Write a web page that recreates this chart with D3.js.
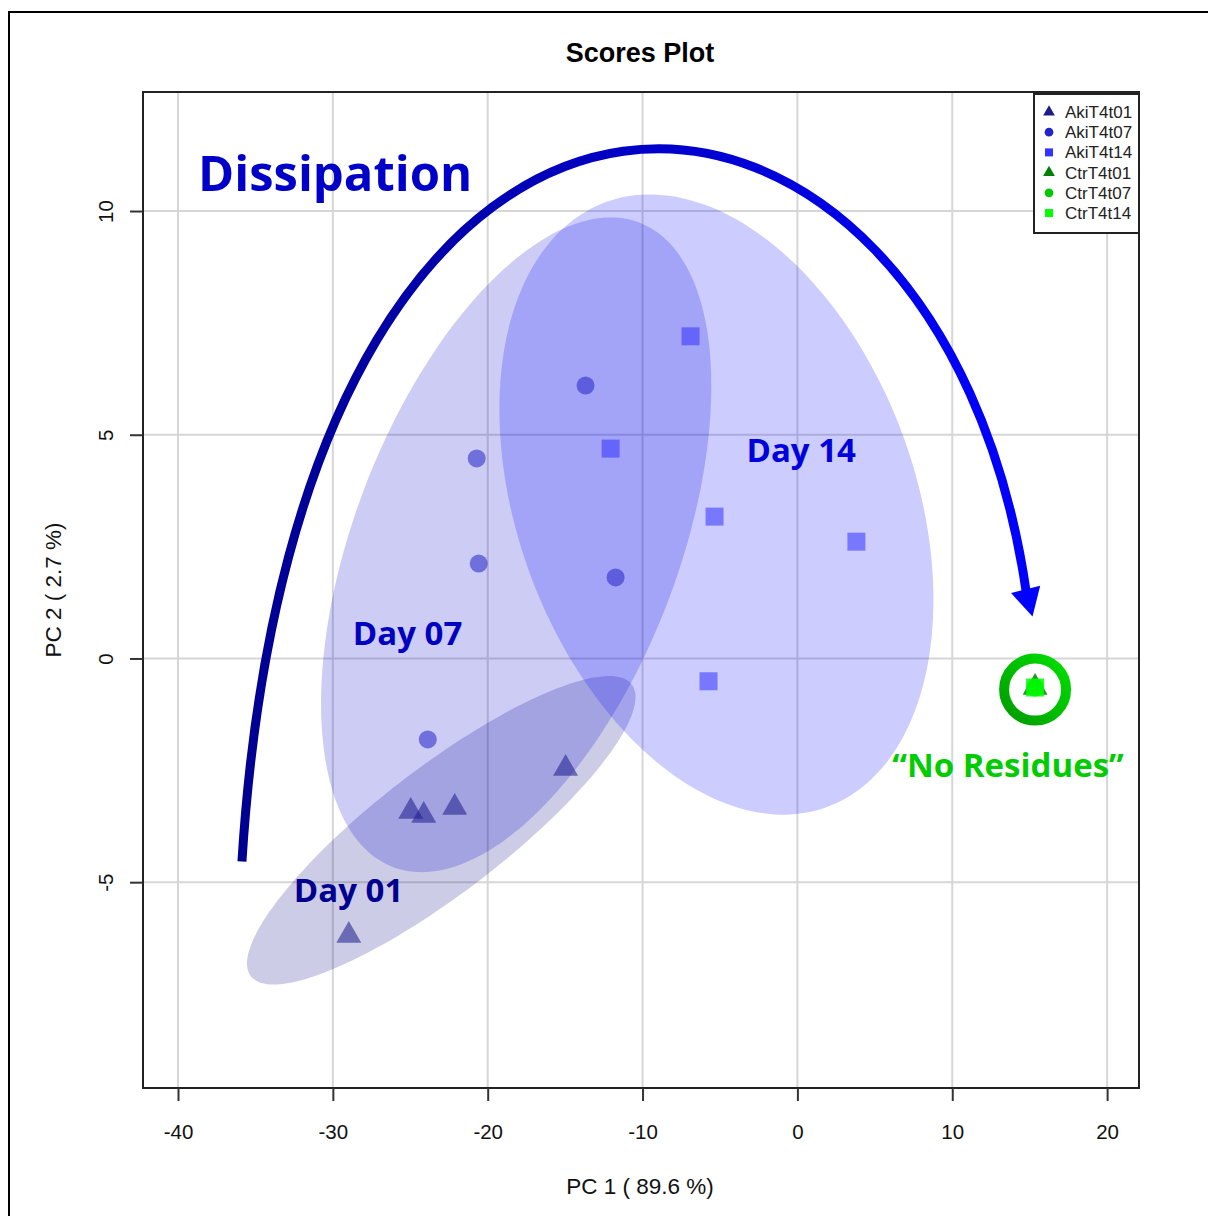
<!DOCTYPE html>
<html>
<head>
<meta charset="utf-8">
<script src="https://cdn.jsdelivr.net/npm/d3@7"></script>
<style>
  body { margin: 0; background: #fff; }
  text { font-family: "Liberation Sans", Arial, sans-serif; }
  .note { font-family: "Open Sans", "DejaVu Sans", sans-serif; font-weight: bold; }
</style>
</head>
<body>
<div id="scores"></div>
<script>
// PCA scores
var day01X = [-28.97, -24.97, -24.13, -22.13, -14.97];
var day01Y = [-6.19, -3.42, -3.51, -3.33, -2.46];
var day07X = [-23.87, -20.58, -20.71, -13.68, -11.74];
var day07Y = [-1.81, 2.12, 4.47, 6.10, 1.81];
var day14X = [-6.90, -12.06, -5.35, 3.81, -5.74];
var day14Y = [7.20, 4.69, 3.17, 2.61, -0.51];
var ctrlX = [15.35, 15.35, 15.35];
var ctrlY = [-0.65, -0.65, -0.65];

var groupNames = ["AkiT4t01", "AkiT4t07", "AkiT4t14", "CtrT4t01", "CtrT4t07", "CtrT4t14"];
var groupColors = ["#1c1c8c", "#2424c8", "#3333ff", "#008000", "#00c800", "#00ff00"];
var groupShapes = ["triangle", "circle", "square", "triangle", "circle", "square"];

var xTicks = [-40, -30, -20, -10, 0, 10, 20];
var yTicks = [-5, 0, 5, 10];

// confidence ellipses: centre, and two semi-axis vectors, data units
var ellCentre = [[-23.0, -3.84], [-18.16, 2.54], [-5.23, 3.44]];
var ellAxisA = [[12.30, 3.26], [7.97, 7.20], [-7.14, 6.76]];
var ellAxisB = [[2.47, -1.12], [9.76, -1.30], [12.06, 1.53]];
var ellColors = ["#000080", "#0000cd", "#0000ff"];

// the "dissipation" arrow: cubic curve, control points in data units
var arrowX = [-35.87, -32.13, 9.16, 14.77];
var arrowY = [-4.54, 16.40, 14.84, 1.50];

var notes = [
  {text: "Dissipation", x: -38.71, y: 10.44, size: 49, color: "#0000c8"},
  {text: "Day 14", x: -3.29, y: 4.38, size: 33, color: "#0000dd"},
  {text: "Day 07", x: -28.71, y: 0.29, size: 33, color: "#0000c0"},
  {text: "Day 01", x: -32.52, y: -5.45, size: 33, color: "#00008f"},
  {text: "\u201cNo Residues\u201d", x: 6.13, y: -2.66, size: 33, color: "#00cc00"}
];

var W = 1208, H = 1216;
var pL = 143, pR = 1139, pT = 92, pB = 1088;

var svg = d3.select("#scores").append("svg")
    .attr("width", W)
    .attr("height", H);

var x = d3.scaleLinear().domain([-42.26, 22.06]).range([pL, pR]);
var y = d3.scaleLinear().domain([-9.6, 12.66]).range([pB, pT]);

var defs = svg.append("defs");
var ag = defs.append("linearGradient").attr("id", "arrowGrad")
    .attr("gradientUnits", "userSpaceOnUse")
    .attr("x1", x(-36)).attr("x2", x(15)).attr("y1", 0).attr("y2", 0);
ag.append("stop").attr("offset", "0%").attr("stop-color", "#000090");
ag.append("stop").attr("offset", "100%").attr("stop-color", "#0000ff");

var rg = defs.append("linearGradient").attr("id", "ringGrad")
    .attr("x1", "0%").attr("y1", "100%").attr("x2", "100%").attr("y2", "0%");
rg.append("stop").attr("offset", "0%").attr("stop-color", "#009a00");
rg.append("stop").attr("offset", "100%").attr("stop-color", "#00e000");

// outer frame
svg.append("rect")
    .attr("x", 9).attr("y", 12)
    .attr("width", W + 10).attr("height", H + 10)
    .attr("fill", "none").attr("stroke", "#000").attr("stroke-width", 2);

// grid
svg.selectAll("line.gx").data(xTicks).enter().append("line")
    .attr("class", "gx")
    .attr("x1", d => x(d)).attr("x2", d => x(d))
    .attr("y1", pT).attr("y2", pB)
    .attr("stroke", "#d6d6d6").attr("stroke-width", 2);
svg.selectAll("line.gy").data(yTicks).enter().append("line")
    .attr("class", "gy")
    .attr("x1", pL).attr("x2", pR)
    .attr("y1", d => y(d)).attr("y2", d => y(d))
    .attr("stroke", "#d6d6d6").attr("stroke-width", 2);

// ellipses
function ellipsePath(i) {
  var pts = d3.range(0, 360, 3).map(function(deg) {
    var t = deg * Math.PI / 180;
    var c = ellCentre[i], a = ellAxisA[i], b = ellAxisB[i];
    return [x(c[0] + a[0] * Math.cos(t) + b[0] * Math.sin(t)),
            y(c[1] + a[1] * Math.cos(t) + b[1] * Math.sin(t))];
  });
  return d3.line().curve(d3.curveCardinalClosed)(pts);
}
svg.selectAll("path.ell").data(ellColors).enter().append("path")
    .attr("class", "ell")
    .attr("d", (d, i) => ellipsePath(i))
    .attr("fill", d => d).attr("fill-opacity", 0.2);

// points
function sym(shape, size) {
  var t = shape === "triangle" ? d3.symbolTriangle : shape === "circle" ? d3.symbolCircle : d3.symbolSquare;
  return d3.symbol().type(t).size(size)();
}
var sizes = {triangle: 270, circle: 254, square: 324};
var groups = [[day01X, day01Y, 0], [day07X, day07Y, 1], [day14X, day14Y, 2]];
groups.forEach(function(g) {
  var k = g[2];
  svg.append("g").selectAll("path").data(g[0]).enter().append("path")
      .attr("d", sym(groupShapes[k], sizes[groupShapes[k]]))
      .attr("transform", (d, i) => "translate(" + x(d) + "," + y(g[1][i]) + ")")
      .attr("fill", groupColors[k]).attr("fill-opacity", 0.55);
});
svg.append("g").selectAll("path").data(ctrlX).enter().append("path")
    .attr("d", (d, i) => sym(groupShapes[i + 3], sizes[groupShapes[i + 3]]))
    .attr("transform", (d, i) => "translate(" + x(d) + "," + y(ctrlY[i]) + ")")
    .attr("fill", (d, i) => groupColors[i + 3]).attr("fill-opacity", 0.85);

// green ring round the controls
svg.append("circle")
    .attr("cx", x(ctrlX[0])).attr("cy", y(ctrlY[0]) + 2)
    .attr("r", 31)
    .attr("fill", "none").attr("stroke", "url(#ringGrad)").attr("stroke-width", 10);

// arrow
var ap = arrowX.map((d, i) => [x(d), y(arrowY[i])]);
var arc = d3.path();
arc.moveTo(ap[0][0], ap[0][1]);
arc.bezierCurveTo(ap[1][0], ap[1][1], ap[2][0], ap[2][1], ap[3][0], ap[3][1]);
svg.append("path")
    .attr("d", arc.toString())
    .attr("fill", "none").attr("stroke", "url(#arrowGrad)")
    .attr("stroke-width", 9);
var ang = Math.atan2(ap[3][1] - ap[2][1], ap[3][0] - ap[2][0]) * 180 / Math.PI - 6;
svg.append("path")
    .attr("d", "M26,0 L-2,-15 L-2,15 Z")
    .attr("transform", "translate(" + ap[3][0] + "," + ap[3][1] + ") rotate(" + ang + ")")
    .attr("fill", "#0000ff");

// annotations
svg.selectAll("text.note").data(notes).enter().append("text")
    .attr("class", "note")
    .attr("x", d => x(d.x)).attr("y", d => y(d.y))
    .attr("font-size", d => d.size)
    .attr("fill", d => d.color)
    .text(d => d.text);

// plot box
svg.append("rect")
    .attr("x", pL).attr("y", pT)
    .attr("width", pR - pL).attr("height", pB - pT)
    .attr("fill", "none").attr("stroke", "#222").attr("stroke-width", 2);

// axes
var xAxis = svg.append("g").attr("transform", "translate(0," + pB + ")")
    .call(d3.axisBottom(x).tickValues(xTicks).tickSize(13).tickPadding(23).tickFormat(d => String(d)));
var yAxis = svg.append("g").attr("transform", "translate(" + pL + ",0)")
    .call(d3.axisLeft(y).tickValues(yTicks).tickSize(13).tickFormat(d => String(d)));
[xAxis, yAxis].forEach(function(a) {
  a.select(".domain").remove();
  a.selectAll("line").attr("stroke", "#333").attr("stroke-width", 2);
  a.selectAll("text").attr("font-size", 20.5).attr("fill", "#111")
      .attr("font-family", "Liberation Sans, Arial, sans-serif");
});
yAxis.selectAll(".tick text")
    .attr("x", 0).attr("dy", "0.35em")
    .attr("text-anchor", "middle")
    .attr("transform", "translate(-37,0) rotate(-90)");

// titles
svg.append("text")
    .attr("x", (pL + pR) / 2 - 1).attr("y", 62)
    .attr("text-anchor", "middle").attr("font-size", 27).attr("font-weight", "bold")
    .text("Scores Plot");
svg.append("text")
    .attr("x", (pL + pR) / 2 - 1).attr("y", 1194)
    .attr("text-anchor", "middle").attr("font-size", 22.5).attr("fill", "#111")
    .text("PC 1 ( 89.6 %)");
svg.append("text")
    .attr("transform", "translate(61," + ((pT + pB) / 2) + ") rotate(-90)")
    .attr("text-anchor", "middle").attr("font-size", 22.5).attr("fill", "#111")
    .text("PC 2 ( 2.7 %)");

// legend
var lg = svg.append("g").attr("transform", "translate(1034,94)");
lg.append("rect").attr("width", pR - 1034).attr("height", 139)
    .attr("fill", "#fff").attr("stroke", "#222").attr("stroke-width", 2);
var items = lg.selectAll("g.item").data(groupNames).enter().append("g")
    .attr("class", "item")
    .attr("transform", (d, i) => "translate(0," + (18 + i * 20.2) + ")");
items.append("path")
    .attr("d", (d, i) => sym(groupShapes[i], groupShapes[i] === "square" ? 64 : 60))
    .attr("transform", "translate(15,0)")
    .attr("fill", (d, i) => groupColors[i]);
items.append("text")
    .attr("x", 31).attr("dy", "0.35em")
    .attr("font-size", 17).attr("fill", "#222")
    .text(d => d);
</script>
</body>
</html>
